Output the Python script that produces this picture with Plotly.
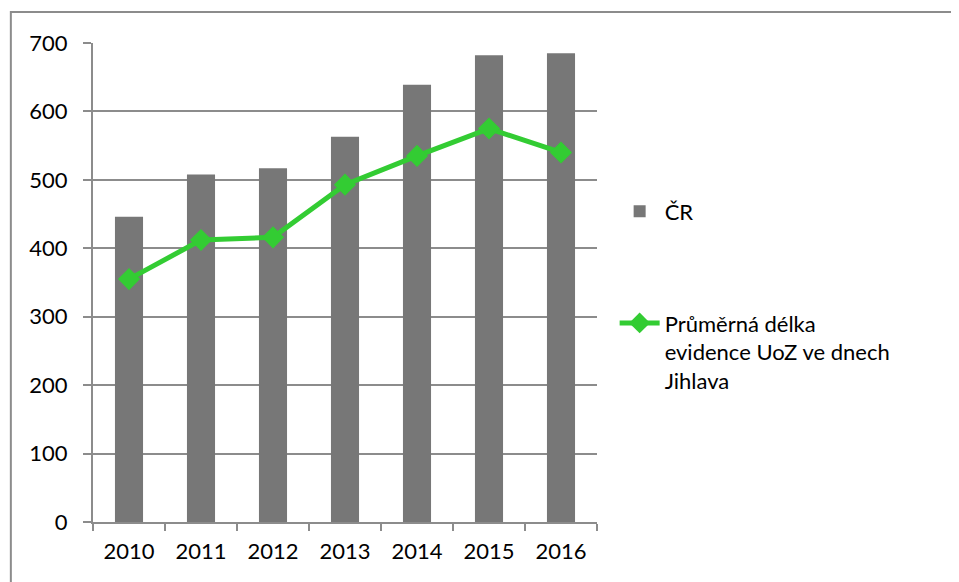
import plotly.graph_objects as go

years = ["2010", "2011", "2012", "2013", "2014", "2015", "2016"]
cr_values = [446, 508, 517, 563, 639, 682, 685]
jihlava_values = [355, 412, 416, 493, 535, 575, 540]
y_ticks = [0, 100, 200, 300, 400, 500, 600, 700]

name_cr = "ČR"
name_jihlava = "Průměrná délka<br>evidence UoZ ve dnech<br>Jihlava"

FONT = "Lato"
GRID = "#8c8c8c"
FS = 22

fig = go.Figure()
fig.add_trace(go.Bar(
    x=years, y=cr_values, name=name_cr,
    marker=dict(color="#777777", line=dict(width=0)),
    legendgroup="a",
))
fig.add_trace(go.Scatter(
    x=years, y=jihlava_values, name=name_jihlava,
    mode="lines+markers",
    line=dict(color="#33cc33", width=5),
    marker=dict(symbol="diamond", size=17, color="#33cc33"),
    legendgroup="b",
))

fig.update_layout(
    width=959, height=582,
    margin=dict(l=85, r=370, t=35, b=68),
    paper_bgcolor="white", plot_bgcolor="white",
    font=dict(family=FONT, size=FS, color="black"),
    bargap=0.61,
    showlegend=True,
    legend=dict(
        x=1.035, xanchor="left", y=0.692, yanchor="top",
        tracegroupgap=80, valign="top",
        font=dict(family=FONT, size=FS, color="black"),
        itemwidth=40,
    ),
    xaxis=dict(
        type="category",
        showgrid=False,
        showline=True, linecolor=GRID, linewidth=2,
        ticks="outside", tickson="boundaries", ticklen=7, tickcolor=GRID, tickwidth=2,
        ticklabelstandoff=9,
        tickfont=dict(family=FONT, size=FS, color="black"),
    ),
    yaxis=dict(
        range=[0, 700],
        tickvals=y_ticks,
        showgrid=True, gridcolor=GRID, gridwidth=2,
        showline=True, linecolor=GRID, linewidth=2,
        ticks="outside", ticklen=8, tickcolor=GRID, tickwidth=2,
        ticklabelstandoff=11,
        zeroline=False,
        tickfont=dict(family=FONT, size=FS, color="black"),
    ),
    shapes=[dict(
        type="rect", xref="paper", yref="paper",
        x0=-0.163, x1=2.0, y0=-1.0, y1=1.0647,
        line=dict(color="#8c8c8c", width=2), fillcolor="rgba(0,0,0,0)",
        layer="below",
    )],
)

fig.write_html("out.html")
